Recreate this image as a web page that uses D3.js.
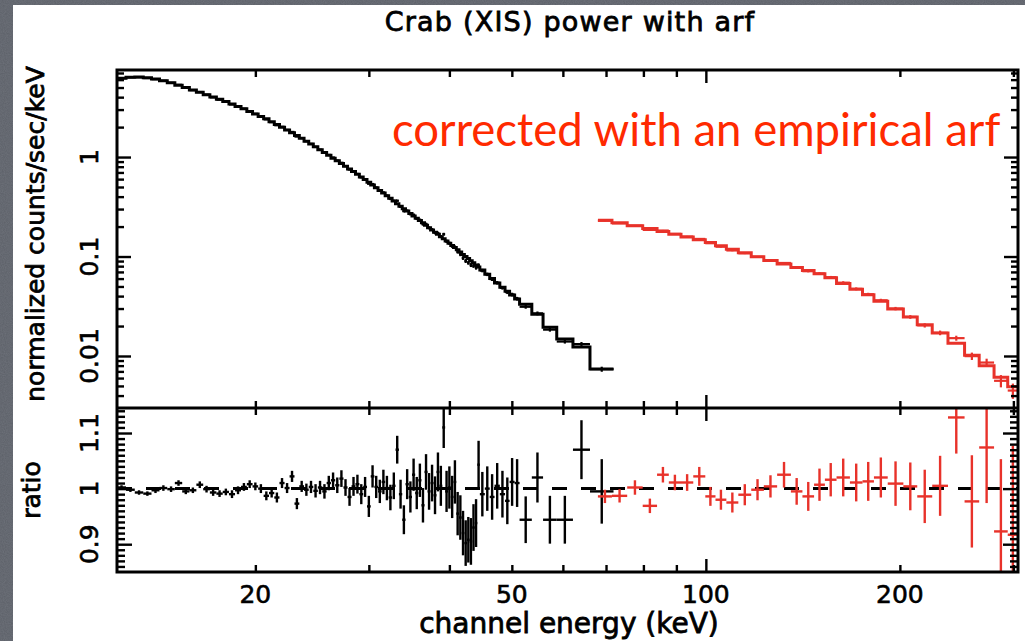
<!DOCTYPE html>
<html>
<head>
<meta charset="utf-8">
<script src="https://cdn.jsdelivr.net/npm/d3@7"></script>
<style>
  html, body { margin: 0; padding: 0; background: #5c6068; }
  svg { display: block; }
</style>
</head>
<body>
<svg id="chart" width="1025" height="641"></svg>
<script>
// ---- HXD spectrum (black) : bin edges in keV, model, data/model ratio, ratio error
const blackEdges = [
  12.2,12.6,13.0,13.4,13.8,14.2,14.6,15.0,15.4,15.8,
  16.2,16.6,17.0,17.4,17.8,18.2,18.6,19.0,19.4,19.8,
  20.2,20.6,21.0,21.4,21.8,22.2,22.6,23.0,23.4,23.8,
  24.2,24.6,25.0,25.4,25.8,26.2,26.6,27.0,27.4,27.8,
  28.2,28.6,29.0,29.4,29.8,30.2,30.6,31.0,31.4,31.8,
  32.2,32.6,33.0,33.4,33.8,34.2,34.6,35.0,35.4,35.8,
  36.2,36.6,37.0,37.4,37.8,38.2,38.6,39.0,39.4,39.8,
  40.2,40.6,41.0,41.4,41.8,42.2,42.6,43.0,43.4,43.8,
  44.2,44.6,45.4,46.2,47.0,47.9,48.8,49.6,50.5,51.4,
  53.7,55.9,58.7,62.2,66.1,71.9
];
const blackModel = [
  6.20,6.33,6.38,6.28,6.08,5.84,5.57,5.27,4.99,4.72,
  4.47,4.24,4.01,3.80,3.61,3.41,3.23,3.05,2.87,2.71,
  2.56,2.42,2.26,2.12,1.995,1.87,1.75,1.65,1.545,1.445,
  1.352,1.268,1.186,1.112,1.040,0.975,0.916,0.861,0.809,0.760,
  0.714,0.671,0.631,0.593,0.557,0.524,0.492,0.462,0.435,0.409,
  0.385,0.361,0.340,0.320,0.303,0.286,0.271,0.256,0.243,0.230,
  0.218,0.206,0.195,0.185,0.175,0.167,0.158,0.151,0.143,0.136,
  0.129,0.123,0.117,0.111,0.105,0.100,0.0953,0.0908,0.0865,0.0824,
  0.0785,0.0730,0.0662,0.0601,0.0542,0.0490,0.0448,0.0410,0.0373,0.0331,
  0.0263,0.0195,0.0148,0.0123,0.00741
];
const blackRatio = [
  1.002,0.998,0.993,0.991,0.997,1.001,0.999,1.010,0.995,0.997,
  1.007,0.999,0.993,0.991,0.994,0.990,0.997,1.003,1.008,1.004,
  1.000,0.987,0.992,0.984,1.010,1.001,1.022,0.973,1.004,0.998,
  1.003,0.996,1.002,0.995,1.010,1.015,1.006,1.018,1.002,0.985,
  1.004,1.008,0.990,1.003,0.968,1.022,1.003,0.995,1.012,1.001,
  0.984,1.005,1.070,0.990,0.944,1.008,0.985,1.025,0.992,1.015,
  0.970,1.030,0.995,1.010,0.988,1.030,1.005,1.110,0.995,1.002,
  0.985,1.012,0.955,0.948,0.920,0.902,0.908,0.905,0.930,0.938,
  1.043,0.990,1.000,0.985,1.005,0.990,0.978,1.012,1.010,0.944,
  1.020,0.944,0.944,1.070,0.995
];
const blackRatioErr = [
  .004,.004,.004,.004,.005,.005,.005,.005,.005,.005,
  .006,.006,.006,.006,.006,.007,.007,.007,.007,.007,
  .008,.008,.008,.009,.009,.009,.010,.010,.010,.011,
  .011,.012,.012,.013,.013,.014,.014,.015,.015,.016,
  .017,.017,.018,.018,.019,.020,.020,.021,.022,.022,
  .023,.024,.025,.026,.026,.027,.028,.029,.029,.030,
  .031,.032,.033,.033,.034,.035,.036,.037,.037,.038,
  .038,.039,.039,.040,.040,.041,.041,.042,.042,.043,
  .043,.040,.040,.041,.041,.042,.042,.043,.043,.042,
  .045,.043,.043,.053,.058
];

// ---- GSO spectrum (red)
const redEdges = [
  68,71.5,75.5,79.8,84,87.6,91.5,95.6,99.8,103.5,107.6,112.3,117.6,123,129,
  135.5,141.2,147.2,153,159.5,167.3,175,182.3,191.5,202.5,212.8,224.5,237.5,
  252,265.5,280,294,305
];
const redModel = [
  0.232,0.218,0.204,0.191,0.178,0.167,0.157,0.147,0.138,0.128,0.118,0.109,
  0.0995,0.0910,0.0840,0.0776,0.0722,0.0670,0.0610,0.0535,0.0468,0.0412,
  0.0356,0.0297,0.0246,0.0206,0.0170,0.0134,0.0102,0.00800,0.00610,0.00490
];
const redRatio = [
  0.986,0.987,1.002,0.969,1.025,1.011,1.011,1.022,0.986,0.980,0.975,0.989,
  0.998,1.004,1.025,0.995,0.986,1.007,1.016,1.020,1.011,1.013,1.020,1.009,
  1.004,0.986,1.005,1.128,0.977,1.074,0.923,0.917
];
const redRatioErr = [
  .012,.012,.013,.013,.014,.014,.015,.017,.017,.018,.018,.019,
  .019,.020,.023,.024,.026,.029,.030,.034,.034,.035,.036,.040,
  .043,.048,.054,.065,.083,.10,.13,.16
];

// ---- axis ticks and labels
const xMajorTicks = [100];
const xMinorTicks = [20,30,40,50,60,70,80,90,200,300];
const xTickLabels = [20,50,100,200];
const yTopMajorTicks = [0.01,0.1,1];
const yTopMinorTicks = [0.004,0.005,0.006,0.007,0.008,0.009,
                        0.02,0.03,0.04,0.05,0.06,0.07,0.08,0.09,
                        0.2,0.3,0.4,0.5,0.6,0.7,0.8,0.9,
                        2,3,4,5,6,7];
const yTopLabels = ["0.01","0.1","1"];
const yBotMajorTicks = [0.9,1,1.1];
const yBotLabels = ["0.9","1","1.1"];

const titleText = "Crab (XIS) power with arf";
const xLabelText = "channel energy (keV)";
const yTopLabelText = "normalized counts/sec/keV";
const yBotLabelText = "ratio";
const noteText = "corrected with an empirical arf";

// ---- layout
const W = 1025, H = 641;
const F = { left: 117, right: 1018, top: 70, mid: 408, bottom: 572 };
const BLACK = "#000000", RED = "#e8322a", NOTE_RED = "#ff2a00";
const FONT = "'DejaVu Sans', sans-serif";

const svg = d3.select("#chart");

// slide background with a light grain
const defs = svg.append("defs");
const grain = defs.append("filter").attr("id", "grain").attr("x", 0).attr("y", 0).attr("width", "100%").attr("height", "100%");
grain.append("feTurbulence").attr("type", "fractalNoise").attr("baseFrequency", 0.9).attr("numOctaves", 2).attr("seed", 3);
grain.append("feColorMatrix").attr("type", "matrix")
  .attr("values", "0 0 0 0 0.45  0 0 0 0 0.47  0 0 0 0 0.52  0 0 0 0.35 0");
svg.append("rect").attr("width", W).attr("height", H).attr("fill", "#5c6068");
svg.append("rect").attr("width", W).attr("height", H).attr("filter", "url(#grain)").attr("opacity", 0.6);
svg.append("rect").attr("x", 13).attr("y", 5).attr("width", W - 13).attr("height", H - 5).attr("fill", "#ffffff");

defs.append("clipPath").attr("id", "clipTop").append("rect")
  .attr("x", F.left).attr("y", F.top).attr("width", F.right - F.left).attr("height", F.mid - F.top);
defs.append("clipPath").attr("id", "clipBot").append("rect")
  .attr("x", F.left).attr("y", F.mid).attr("width", F.right - F.left).attr("height", F.bottom - F.mid);

// ---- scales
const x = d3.scaleLog().domain([12.2, 305]).range([F.left, F.right]);
const yTop = d3.scaleLog().domain([0.003, 7.5]).range([F.mid, F.top]);
const yBot = d3.scaleLinear().domain([0.85, 1.145]).range([F.bottom, F.mid]);

function makeBins(edges, model, ratio, err) {
  return model.map((m, i) => {
    const lo = edges[i], hi = edges[i + 1];
    return { lo, hi, c: Math.sqrt(lo * hi), model: m, ratio: ratio[i], err: err[i],
             data: m * ratio[i], dataErr: m * err[i] };
  });
}
const series = [
  { bins: makeBins(blackEdges, blackModel, blackRatio, blackRatioErr), color: BLACK },
  { bins: makeBins(redEdges, redModel, redRatio, redRatioErr), color: RED }
];

// ---- upper panel: model histogram + data crosses
const gTop = svg.append("g").attr("clip-path", "url(#clipTop)");
const stepLine = d3.line().x(d => x(d[0])).y(d => yTop(d[1]));
series.forEach(s => {
  const pts = s.bins.flatMap(b => [[b.lo, b.model], [b.hi, b.model]]);
  gTop.append("path").attr("d", stepLine(pts)).attr("fill", "none")
    .attr("stroke", s.color).attr("stroke-width", 3).attr("stroke-linejoin", "miter");
  const g = gTop.append("g").attr("stroke", s.color).attr("stroke-width", 2.2);
  g.selectAll("line.h").data(s.bins).join("line").attr("class", "h")
    .attr("x1", d => x(d.lo)).attr("x2", d => x(d.hi))
    .attr("y1", d => yTop(d.data)).attr("y2", d => yTop(d.data));
  g.selectAll("line.v").data(s.bins).join("line").attr("class", "v")
    .attr("x1", d => x(d.c)).attr("x2", d => x(d.c))
    .attr("y1", d => yTop(d.data - d.dataErr)).attr("y2", d => yTop(d.data + d.dataErr));
});

// ---- lower panel: ratio crosses + unity line
const gBot = svg.append("g").attr("clip-path", "url(#clipBot)");
gBot.append("line").attr("x1", F.left).attr("x2", F.right)
  .attr("y1", yBot(1)).attr("y2", yBot(1))
  .attr("stroke", BLACK).attr("stroke-width", 3).attr("stroke-dasharray", "15 14");
series.forEach(s => {
  const g = gBot.append("g").attr("stroke", s.color).attr("stroke-width", 2.4);
  g.selectAll("line.h").data(s.bins).join("line").attr("class", "h")
    .attr("x1", d => x(d.lo)).attr("x2", d => x(d.hi))
    .attr("y1", d => yBot(d.ratio)).attr("y2", d => yBot(d.ratio));
  g.selectAll("line.v").data(s.bins).join("line").attr("class", "v")
    .attr("x1", d => x(d.c)).attr("x2", d => x(d.c))
    .attr("y1", d => yBot(d.ratio - d.err)).attr("y2", d => yBot(d.ratio + d.err));
});

// ---- frames and inward ticks
function ticks(axisFn, scale, values, size, tx, ty) {
  const g = svg.append("g").attr("transform", `translate(${tx},${ty})`)
    .call(axisFn(scale).tickValues(values).tickSize(size).tickFormat(() => ""));
  g.select(".domain").remove();
  g.selectAll("line").attr("stroke", BLACK).attr("stroke-width", 2.4);
}
const yBotMinor = d3.range(0.86, 1.1451, 0.01).filter(v => Math.abs(v - 0.9) > 1e-6 && Math.abs(v - 1) > 1e-6 && Math.abs(v - 1.1) > 1e-6);

// x ticks on top edge, panel divider (both sides) and bottom edge
[[d3.axisBottom, F.top], [d3.axisTop, F.mid], [d3.axisBottom, F.mid], [d3.axisTop, F.bottom]].forEach(([fn, yy]) => {
  ticks(fn, x, xMajorTicks, 13, 0, yy);
  ticks(fn, x, xMinorTicks, 7, 0, yy);
});
// y ticks, left and right edges
ticks(d3.axisRight, yTop, yTopMajorTicks, 14, F.left, 0);
ticks(d3.axisRight, yTop, yTopMinorTicks, 7, F.left, 0);
ticks(d3.axisLeft, yTop, yTopMajorTicks, 14, F.right, 0);
ticks(d3.axisLeft, yTop, yTopMinorTicks, 7, F.right, 0);
ticks(d3.axisRight, yBot, yBotMajorTicks, 15, F.left, 0);
ticks(d3.axisRight, yBot, yBotMinor, 8, F.left, 0);
ticks(d3.axisLeft, yBot, yBotMajorTicks, 15, F.right, 0);
ticks(d3.axisLeft, yBot, yBotMinor, 8, F.right, 0);

svg.append("rect").attr("x", F.left).attr("y", F.top)
  .attr("width", F.right - F.left).attr("height", F.bottom - F.top)
  .attr("fill", "none").attr("stroke", BLACK).attr("stroke-width", 3);
svg.append("line").attr("x1", F.left).attr("x2", F.right).attr("y1", F.mid).attr("y2", F.mid)
  .attr("stroke", BLACK).attr("stroke-width", 3);

// ---- text
const txt = (s, w = 0.6) => s.attr("font-family", FONT).attr("fill", BLACK)
  .attr("stroke", BLACK).attr("stroke-width", w);

svg.selectAll("text.xt").data(xTickLabels).join("text").attr("class", "xt")
  .attr("x", d => x(d)).attr("y", 603).attr("text-anchor", "middle")
  .attr("font-size", 25).text(d => d).call(txt);

svg.selectAll("text.yt").data(yTopMajorTicks).join("text").attr("class", "yt")
  .attr("transform", d => `translate(98,${yTop(d)}) rotate(-90)`)
  .attr("text-anchor", "middle").attr("font-size", 25)
  .text((d, i) => yTopLabels[i]).call(txt);

svg.selectAll("text.yb").data(yBotMajorTicks).join("text").attr("class", "yb")
  .attr("transform", d => `translate(98,${yBot(d)}) rotate(-90)`)
  .attr("text-anchor", "middle").attr("font-size", 25)
  .text((d, i) => yBotLabels[i]).call(txt);

svg.append("text").attr("x", 570).attr("y", 31).attr("text-anchor", "middle")
  .attr("font-size", 27).attr("letter-spacing", 1.2).text(titleText).call(txt, 0.8);
svg.append("text").attr("x", 569).attr("y", 633).attr("text-anchor", "middle")
  .attr("font-size", 28).text(xLabelText).call(txt, 0.8);
svg.append("text").attr("transform", "translate(44,234) rotate(-90)").attr("text-anchor", "middle")
  .attr("font-size", 25).text(yTopLabelText).call(txt, 0.8);
svg.append("text").attr("transform", "translate(40,490) rotate(-90)").attr("text-anchor", "middle")
  .attr("font-size", 25).text(yBotLabelText).call(txt, 0.8);

svg.append("text").attr("x", 392).attr("y", 146)
  .attr("font-family", "Lato, 'Open Sans', sans-serif").attr("font-size", 45.5)
  .attr("fill", NOTE_RED).text(noteText);
</script>
</body>
</html>
